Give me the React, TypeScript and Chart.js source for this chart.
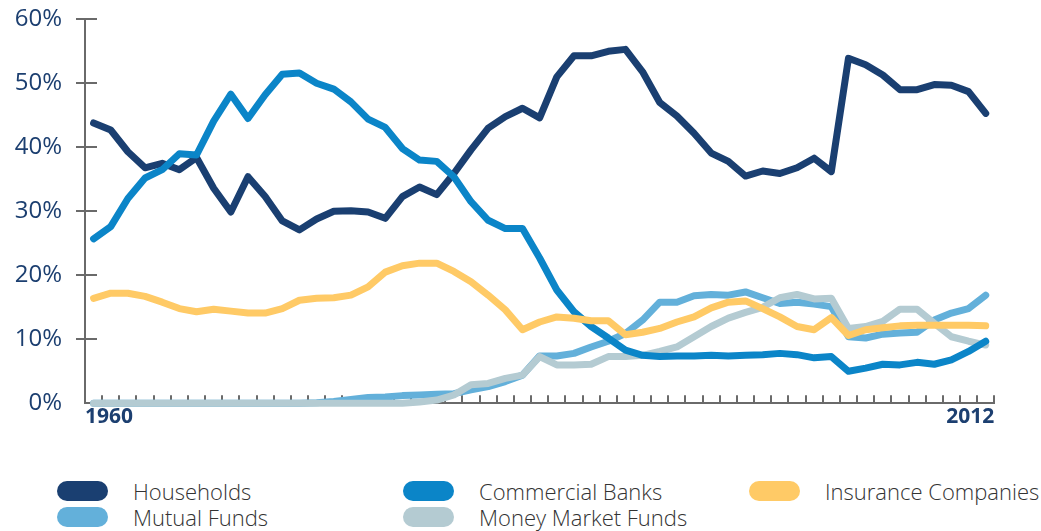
import React, { useEffect, useRef } from "react";
import { Chart, registerables } from "chart.js";

Chart.register(...registerables);

const years = [
  1960, 1961, 1962, 1963, 1964, 1965, 1966, 1967, 1968, 1969,
  1970, 1971, 1972, 1973, 1974, 1975, 1976, 1977, 1978, 1979,
  1980, 1981, 1982, 1983, 1984, 1985, 1986, 1987, 1988, 1989,
  1990, 1991, 1992, 1993, 1994, 1995, 1996, 1997, 1998, 1999,
  2000, 2001, 2002, 2003, 2004, 2005, 2006, 2007, 2008, 2009,
  2010, 2011, 2012,
];

const households = [
  43.8, 42.7, 39.3, 36.8, 37.5, 36.5, 38.4, 33.6, 29.9, 35.4,
  32.3, 28.5, 27.1, 28.8, 30.0, 30.1, 29.9, 28.9, 32.3, 33.8,
  32.6, 35.9, 39.6, 43.0, 44.8, 46.1, 44.6, 51.0, 54.3, 54.3,
  55.0, 55.3, 51.8, 47.0, 44.9, 42.2, 39.1, 37.8, 35.5, 36.3,
  35.9, 36.8, 38.3, 36.2, 53.9, 52.9, 51.3, 49.0, 49.0, 49.8,
  49.7, 48.7, 45.3,
];

const commercialBanks = [
  25.7, 27.6, 32.0, 35.2, 36.5, 39.0, 38.8, 44.1, 48.3, 44.5,
  48.2, 51.4, 51.6, 50.0, 49.1, 47.1, 44.4, 43.1, 39.8, 38.0,
  37.8, 35.4, 31.5, 28.6, 27.3, 27.3, 22.7, 17.7, 14.3, 12.0,
  10.2, 8.3, 7.5, 7.3, 7.4, 7.4, 7.5, 7.4, 7.5, 7.6,
  7.8, 7.6, 7.1, 7.3, 5.0, 5.5, 6.1, 6.0, 6.4, 6.1,
  6.8, 8.1, 9.7,
];

const insuranceCompanies = [
  16.4, 17.2, 17.2, 16.7, 15.8, 14.8, 14.3, 14.7, 14.4, 14.1,
  14.1, 14.8, 16.1, 16.4, 16.5, 16.9, 18.2, 20.5, 21.5, 21.9,
  21.9, 20.6, 19.0, 16.9, 14.6, 11.5, 12.7, 13.5, 13.3, 12.9,
  12.9, 10.7, 11.1, 11.7, 12.7, 13.5, 14.9, 15.8, 16.0, 14.8,
  13.5, 12.0, 11.5, 13.4, 10.6, 11.5, 11.8, 12.1, 12.2, 12.2,
  12.2, 12.2, 12.1,
];

const mutualFunds = [
  0, 0, 0, 0, 0, 0, 0, 0, 0, 0,
  0, 0, 0, 0.1, 0.3, 0.6, 0.9, 1.0, 1.2, 1.3,
  1.4, 1.5, 2.1, 2.6, 3.4, 4.4, 7.4, 7.4, 7.8, 8.8,
  9.7, 10.9, 13.0, 15.8, 15.8, 16.8, 17.0, 16.9, 17.4, 16.5,
  15.6, 15.8, 15.5, 15.1, 10.4, 10.2, 10.8, 11.0, 11.1, 13.0,
  14.1, 14.8, 16.9,
];

const moneyMarketFunds = [
  0, 0, 0, 0, 0, 0, 0, 0, 0, 0,
  0, 0, 0, 0, 0, 0, 0, 0, 0, 0.2,
  0.5, 1.3, 2.9, 3.1, 3.9, 4.4, 7.3, 6.0, 6.0, 6.1,
  7.3, 7.3, 7.5, 8.1, 8.8, 10.4, 12.0, 13.3, 14.2, 15.0,
  16.5, 17.0, 16.3, 16.4, 11.7, 12.0, 12.8, 14.7, 14.7, 12.5,
  10.4, 9.7, 9.1,
];

const yTickValues = [0, 10, 20, 30, 40, 50, 60];
const xTickLabels = ["1960", "2012"];

const seriesNames = [
  "Households",
  "Commercial Banks",
  "Insurance Companies",
  "Mutual Funds",
  "Money Market Funds",
];
const seriesColors = ["#1a3f71", "#0b85c8", "#ffca66", "#63b0da", "#b4cbd2"];
const seriesData = [households, commercialBanks, insuranceCompanies, mutualFunds, moneyMarketFunds];
// lower order = drawn on top
const seriesOrder = [3, 2, 1, 5, 4];

const NAVY = "#1c3f70";
const AXIS = "#6a6a6a";

const innerTicks = {
  id: "innerTicks",
  beforeDatasetsDraw(chart: any) {
    const { ctx, chartArea, scales } = chart;
    const xs = scales.x;
    const ys = scales.y;
    ctx.save();
    ctx.strokeStyle = AXIS;
    ctx.lineWidth = 2;
    ctx.beginPath();
    for (let i = 0; i < years.length; i++) {
      const px = Math.round(xs.getPixelForValue(years[i] + 0.5));
      ctx.moveTo(px, chartArea.bottom);
      ctx.lineTo(px, chartArea.bottom - 8);
    }
    for (const v of yTickValues) {
      if (v === 0) continue;
      const py = Math.round(ys.getPixelForValue(v));
      ctx.moveTo(chartArea.left - 9, py);
      ctx.lineTo(chartArea.left + 12, py);
    }
    ctx.stroke();
    ctx.restore();
  },
};

function ChartView() {
  const canvasRef = useRef<HTMLCanvasElement | null>(null);
  useEffect(() => {
    if (!canvasRef.current) return;
    const chart = new Chart(canvasRef.current, {
      type: "line",
      data: {
        datasets: seriesNames.map((name, i) => ({
          label: name,
          data: years.map((y, j) => ({ x: y, y: seriesData[i][j] })),
          borderColor: seriesColors[i],
          backgroundColor: seriesColors[i],
          borderWidth: 7,
          pointRadius: 0,
          tension: 0,
          borderCapStyle: "round",
          borderJoinStyle: "round",
          clip: false,
          order: seriesOrder[i],
        })),
      },
      options: {
        responsive: false,
        animation: false,
        layout: { padding: { top: 19.3, left: 0, right: 46.7, bottom: 0 } },
        plugins: { legend: { display: false }, tooltip: { enabled: false } },
        scales: {
          x: {
            type: "linear",
            min: 1959.5,
            max: 2012.5,
            afterFit: (s: any) => {
              s.height = 36.7;
              s.paddingLeft = 0;
              s.paddingRight = 0;
            },
            afterBuildTicks: (s: any) => {
              s.ticks = [{ value: 1959.5 }, { value: 2012.5 }];
            },
            grid: { display: false, drawTicks: false },
            border: { display: true, color: AXIS, width: 2 },
            ticks: {
              autoSkip: false,
              maxRotation: 0,
              align: "inner",
              padding: 1,
              color: NAVY,
              font: { family: "'Open Sans', sans-serif", size: 21, weight: "bold" },
              callback: (_v: any, i: number) => xTickLabels[i],
            },
          },
          y: {
            min: 0,
            max: 60,
            afterFit: (s: any) => {
              s.width = 85;
              s.paddingTop = 0;
              s.paddingBottom = 0;
            },
            afterBuildTicks: (s: any) => {
              s.ticks = yTickValues.map((v) => ({ value: v }));
            },
            grid: { display: false, drawTicks: false },
            border: { display: true, color: AXIS, width: 2 },
            ticks: {
              padding: 23,
              color: NAVY,
              font: { family: "'Open Sans', sans-serif", size: 24, weight: "500" },
              callback: (v: any) => v + "%",
            },
          },
        },
      },
      plugins: [innerTicks],
    } as any);
    return () => chart.destroy();
  }, []);
  return <canvas ref={canvasRef} width={1041} height={440} style={{ display: "block" }} />;
}

const legendPos = [
  { left: 57, top: 481 },
  { left: 403, top: 481 },
  { left: 749, top: 481 },
  { left: 57, top: 507 },
  { left: 403, top: 507 },
];

export default function App() {
  return (
    <div
      style={{
        position: "absolute",
        left: 0,
        top: 0,
        width: 1041,
        height: 531,
        background: "#ffffff",
        overflow: "hidden",
      }}
    >
      <ChartView />
      {seriesNames.map((name, i) => (
        <div
          key={name}
          style={{
            position: "absolute",
            left: legendPos[i].left,
            top: legendPos[i].top,
            height: 20,
            display: "flex",
            alignItems: "center",
            whiteSpace: "nowrap",
          }}
        >
          <span
            style={{
              display: "inline-block",
              width: 51,
              height: 20,
              borderRadius: 10,
              background: seriesColors[i],
            }}
          />
          <span
            style={{
              marginLeft: 25,
              fontFamily: "'Open Sans', sans-serif",
              fontSize: 22,
              fontWeight: 300,
              color: "#333333",
              lineHeight: "20px",
            }}
          >
            {name}
          </span>
        </div>
      ))}
    </div>
  );
}
